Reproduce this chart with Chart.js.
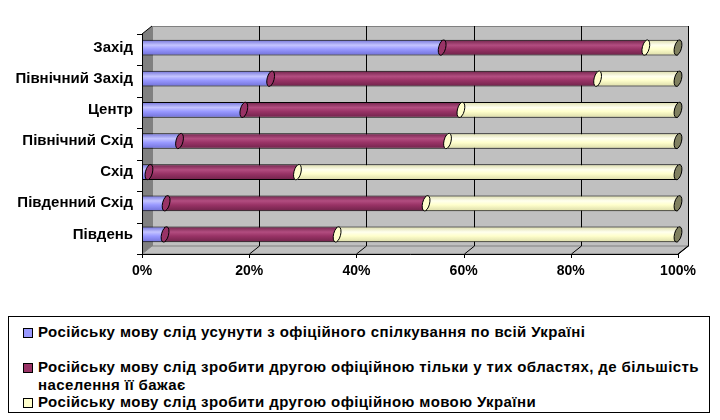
<!DOCTYPE html>
<html>
<head>
<meta charset="utf-8">
<script src="https://cdn.jsdelivr.net/npm/chart.js@4"></script>
<style>
  body { margin: 0; background: #fff; width: 720px; height: 420px; position: relative; overflow: hidden; }
  #wrap { position: absolute; left: 0; top: 0; width: 720px; height: 300px; }
  #legend {
    position: absolute; left: 8px; top: 316px; width: 702px; height: 97px;
    border: 1px solid #000; box-sizing: border-box;
    font: bold 15px "Liberation Sans", Arial, sans-serif; color: #000;
    letter-spacing: 0.4px;
    padding: 6px 6px 0 14px; line-height: 17.5px;
  }
  .item { display: flex; align-items: flex-start; }
  .sw { flex: none; width: 8px; height: 8px; border: 1px solid #000; margin: 5px 5px 0 0; }
  .gap { height: 17.5px; }
</style>
</head>
<body>
<div id="wrap"><canvas id="chart"></canvas></div>
<div id="legend"></div>
<script>
// regions, top to bottom
const regions = ["Захід", "Північний Захід", "Центр", "Північний Схід", "Схід", "Південний Схід", "Південь"];

// share of answers, %
const removeRussian = [56, 24, 19, 7, 1.3, 4.5, 4.3];
const regionalOfficial = [38, 61, 40.5, 50, 27.7, 48.5, 32.1];
const secondOfficial = [6, 15, 40.5, 43, 71, 47, 63.6];

const seriesNames = [
    "Російську мову слід усунути з офіційного спілкування по всій Україні",
    "Російську мову слід зробити другою офіційною тільки у тих областях, де більшість населення її бажає",
    "Російську мову слід зробити другою офіційною мовою України"
];
const xTicks = [0, 20, 40, 60, 80, 100];

const colors = ["#9999FF", "#993366", "#FFFFCC"];
const shades = [
    ["#c4c4ff", "#9999ff", "#6e6ed6"],
    ["#b24d80", "#993366", "#6e2249"],
    ["#ffffee", "#ffffcc", "#d9d9a6"]
];

const DX = 10, DY = -8;

function cylinderFill(i) {
    return (ctx) => {
        const chart = ctx.chart;
        const y = chart.scales && chart.scales.y;
        if (!chart.chartArea || !y || ctx.dataIndex === undefined) return colors[i];
        const cy = y.getPixelForValue(ctx.dataIndex);
        const h = 16;
        if (!Number.isFinite(cy)) return colors[i];
        const g = chart.ctx.createLinearGradient(0, cy - h / 2, 0, cy + h / 2);
        g.addColorStop(0, shades[i][2]);
        g.addColorStop(0.35, shades[i][0]);
        g.addColorStop(0.6, shades[i][1]);
        g.addColorStop(1, shades[i][2]);
        return g;
    };
}

const walls = {
    id: "walls",
    beforeDatasetsDraw(chart) {
        const { ctx, chartArea: a, scales: { x } } = chart;
        const L = a.left, R = x.getPixelForValue(100), T = a.top + 2, B = a.bottom + 4;
        ctx.save();
        ctx.lineWidth = 1;
        // back wall
        ctx.fillStyle = "#c0c0c0";
        ctx.fillRect(L + DX, T + DY, R - L, B - T);
        ctx.strokeStyle = "#808080";
        ctx.strokeRect(L + DX + 0.5, T + DY + 0.5, R - L, B - T);
        // floor
        ctx.beginPath();
        ctx.moveTo(L, B); ctx.lineTo(L + DX, B + DY); ctx.lineTo(R + DX, B + DY); ctx.lineTo(R, B);
        ctx.closePath();
        ctx.fillStyle = "#c0c0c0"; ctx.fill();
        ctx.strokeStyle = "#808080"; ctx.stroke();
        // side wall
        ctx.beginPath();
        ctx.moveTo(L, T); ctx.lineTo(L + DX, T + DY); ctx.lineTo(L + DX, B + DY); ctx.lineTo(L, B);
        ctx.closePath();
        ctx.fillStyle = "#808080"; ctx.fill();
        // grid lines
        ctx.strokeStyle = "#000";
        xTicks.forEach(v => {
            if (v === 0) return;
            const px = Math.round(x.getPixelForValue(v)) + 0.5;
            ctx.beginPath();
            ctx.moveTo(px + DX, T + DY);
            ctx.lineTo(px + DX, B + DY);
            ctx.lineTo(px, B);
            ctx.stroke();
        });
        // axes
        ctx.beginPath();
        ctx.moveTo(L + 0.5, T); ctx.lineTo(L + 0.5, B + 0.5); ctx.lineTo(R, B + 0.5);
        ctx.stroke();
        ctx.beginPath();
        ctx.moveTo(L, T); ctx.lineTo(L + DX, T + DY);
        ctx.moveTo(R, B); ctx.lineTo(R + DX, B + DY);
        ctx.stroke();
        // y tick marks
        const step = (B - T) / regions.length;
        for (let k = 0; k <= regions.length; k++) {
            const py = Math.round(T + k * step) + 0.5;
            ctx.beginPath(); ctx.moveTo(L - 5, py); ctx.lineTo(L, py); ctx.stroke();
        }
        // x tick marks
        xTicks.forEach(v => {
            const px = Math.round(x.getPixelForValue(v)) + 0.5;
            ctx.beginPath(); ctx.moveTo(px, B); ctx.lineTo(px, B + 4); ctx.stroke();
        });
        ctx.restore();
    },
    afterDatasetsDraw(chart) {
        const { ctx } = chart;
        ctx.save();
        ctx.lineWidth = 1;
        ctx.strokeStyle = "#000";
        // caps of each bar segment
        chart.data.datasets.forEach((ds, i) => {
            chart.getDatasetMeta(i).data.forEach(el => {
                const h = el.height;
                if (!Number.isFinite(el.x) || !Number.isFinite(h)) return;
                const isLast = i === chart.data.datasets.length - 1;
                ctx.beginPath();
                ctx.ellipse(el.x, el.y, 3.5, h / 2, 0.25, 0, Math.PI * 2);
                ctx.fillStyle = isLast ? "#808060" : colors[i + 1];
                ctx.fill();
                ctx.stroke();
            });
        });
        ctx.restore();
    }
};

new Chart(document.getElementById("chart"), {
    type: "bar",
    data: {
        labels: regions,
        datasets: [removeRussian, regionalOfficial, secondOfficial].map((d, i) => ({
            label: seriesNames[i],
            data: d,
            backgroundColor: cylinderFill(i),
            borderColor: "#000",
            borderWidth: 1,
            borderSkipped: false,
            categoryPercentage: 0.9,
            barPercentage: 0.56
        }))
    },
    options: {
        indexAxis: "y",
        responsive: true,
        maintainAspectRatio: false,
        animation: false,
        layout: { padding: { top: 32, right: 42, left: 0, bottom: 0 } },
        plugins: { legend: { display: false }, tooltip: { enabled: false } },
        scales: {
            x: {
                stacked: true,
                min: 0, max: 100,
                afterBuildTicks: s => { s.ticks = xTicks.map(v => ({ value: v })); },
                grid: { display: false },
                border: { display: false },
                ticks: {
                    color: "#000",
                    padding: 5,
                    font: { family: "'Liberation Sans', Arial", size: 14, weight: "bold" },
                    callback: v => v + "%"
                },
                afterFit: s => { s.height = 50; }
            },
            y: {
                stacked: true,
                grid: { display: false },
                border: { display: false },
                ticks: {
                    color: "#000",
                    padding: 1,
                    font: { family: "'Liberation Sans', Arial", size: 15, weight: "bold" }
                },
                afterFit: s => { s.width = 142; }
            }
        }
    },
    plugins: [walls]
});

// legend
const legend = document.getElementById("legend");
seriesNames.forEach((name, i) => {
    if (i === 1) {
        const gap = document.createElement("div");
        gap.className = "gap";
        legend.appendChild(gap);
    }
    const row = document.createElement("div");
    row.className = "item";
    row.innerHTML = `<span class="sw" style="background:${colors[i]}"></span><span>${name}</span>`;
    legend.appendChild(row);
});
</script>
</body>
</html>
